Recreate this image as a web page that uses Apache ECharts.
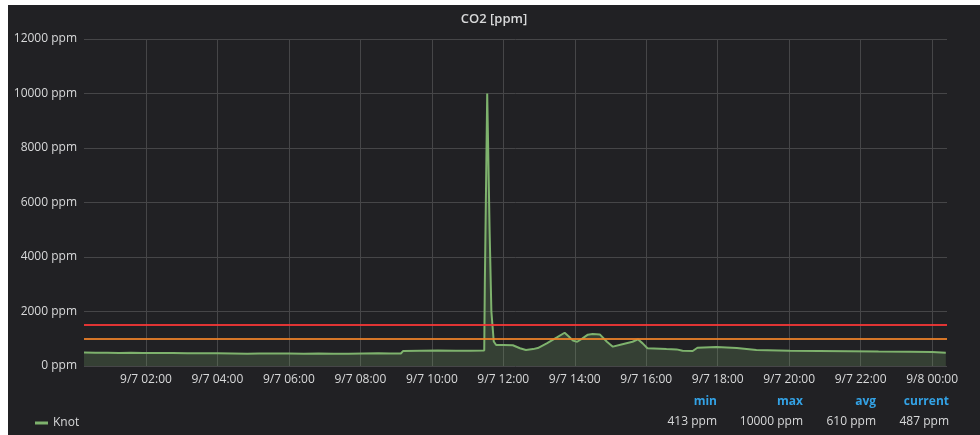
<!DOCTYPE html>
<html>
<head>
<meta charset="utf-8">
<title>CO2 [ppm]</title>
<script src="https://cdn.jsdelivr.net/npm/echarts@6/dist/echarts.min.js"></script>
<style>
  html, body { margin: 0; padding: 0; background: #fff; }
  #co2Chart { position: absolute; left: 8px; top: 5px; width: 972px; height: 430px; }
</style>
</head>
<body>
<div id="co2Chart"></div>
<script>
// readings of the "Knot" sensor, 9/7 00:16 .. 9/8 00:23
var times = [
  "2023-09-07 00:16", "2023-09-07 00:35", "2023-09-07 00:55", "2023-09-07 01:15", "2023-09-07 01:35",
  "2023-09-07 01:55", "2023-09-07 02:20", "2023-09-07 02:45", "2023-09-07 03:10", "2023-09-07 03:35",
  "2023-09-07 04:00", "2023-09-07 04:25", "2023-09-07 04:50", "2023-09-07 05:10", "2023-09-07 05:35",
  "2023-09-07 06:00", "2023-09-07 06:25", "2023-09-07 06:50", "2023-09-07 07:15", "2023-09-07 07:40",
  "2023-09-07 08:05", "2023-09-07 08:30", "2023-09-07 08:50", "2023-09-07 09:08", "2023-09-07 09:12",
  "2023-09-07 09:40", "2023-09-07 10:10", "2023-09-07 10:40", "2023-09-07 11:05", "2023-09-07 11:28",
  "2023-09-07 11:29", "2023-09-07 11:33", "2023-09-07 11:37", "2023-09-07 11:40", "2023-09-07 11:44",
  "2023-09-07 11:48", "2023-09-07 12:00", "2023-09-07 12:16", "2023-09-07 12:28", "2023-09-07 12:38",
  "2023-09-07 12:50", "2023-09-07 12:58", "2023-09-07 13:13", "2023-09-07 13:30", "2023-09-07 13:43",
  "2023-09-07 13:50", "2023-09-07 13:57", "2023-09-07 14:04", "2023-09-07 14:13", "2023-09-07 14:22",
  "2023-09-07 14:30", "2023-09-07 14:42", "2023-09-07 14:54", "2023-09-07 15:04", "2023-09-07 15:20",
  "2023-09-07 15:37", "2023-09-07 15:46", "2023-09-07 15:54", "2023-09-07 16:02", "2023-09-07 16:34",
  "2023-09-07 16:51", "2023-09-07 17:01", "2023-09-07 17:18", "2023-09-07 17:26", "2023-09-07 17:58",
  "2023-09-07 18:32", "2023-09-07 19:05", "2023-09-07 20:01", "2023-09-07 20:50", "2023-09-07 21:41",
  "2023-09-07 22:30", "2023-09-07 23:22", "2023-09-08 00:00", "2023-09-08 00:23"
];
var knot = [
  492, 488, 484, 480, 483,
  478, 476, 480, 472, 468,
  470, 462, 445, 455, 462,
  458, 450, 456, 448, 452,
  460, 466, 462, 458, 555,
  560, 565, 558, 562, 565,
  3000, 10000, 5000, 2000, 900,
  770, 770, 760, 650, 590,
  620, 660, 830, 1050, 1220,
  1080, 930, 890, 1015, 1150,
  1175, 1160, 890, 710, 800,
  890, 980, 830, 650, 620,
  610, 560, 550, 670, 700,
  660, 590, 560, 550, 540,
  530, 525, 510, 490
];
var thresholds = [1500, 1000];
var xTicks = [
  "2023-09-07 02:00", "2023-09-07 04:00", "2023-09-07 06:00", "2023-09-07 08:00",
  "2023-09-07 10:00", "2023-09-07 12:00", "2023-09-07 14:00", "2023-09-07 16:00",
  "2023-09-07 18:00", "2023-09-07 20:00", "2023-09-07 22:00", "2023-09-08 00:00"
];
var xRange = ["2023-09-07 00:16", "2023-09-08 00:25"];
var statNames = ["min", "max", "avg", "current"];
var statValues = ["413 ppm", "10000 ppm", "610 ppm", "487 ppm"];

function ts(s) {
  return new Date(s.replace(" ", "T")).getTime();
}
function pad(n) {
  return (n < 10 ? "0" : "") + n;
}

var chart = echarts.init(document.getElementById("co2Chart"));
var font = "'Open Sans', 'Noto Sans', sans-serif";
var tickValues = xTicks.map(ts);

// stats block under the plot (grafana legend table)
var statRight = [709, 795, 868, 941];
var graphics = [];
statNames.forEach(function (name, i) {
  graphics.push({
    type: "text", x: statRight[i], y: 397,
    style: { text: name, fill: "#33a2e5", font: "bold 12px " + font, align: "right", verticalAlign: "middle" }
  });
  graphics.push({
    type: "text", x: statRight[i], y: 417,
    style: { text: statValues[i], fill: "#d8d9da", font: "12px " + font, align: "right", verticalAlign: "middle" }
  });
});

var option = {
  backgroundColor: "#212124",
  animation: false,
  textStyle: { fontFamily: font },
  title: {
    text: "CO2 [ppm]",
    left: "center",
    top: 3,
    textStyle: { color: "#d8d9da", fontSize: 13, fontWeight: 600, fontFamily: font }
  },
  grid: { left: 76, right: 33, top: 34, bottom: 69 },
  legend: {
    left: 22,
    top: 407,
    icon: "rect",
    itemWidth: 13,
    itemHeight: 3,
    itemGap: 10,
    textStyle: { color: "#d8d9da", fontSize: 12, fontFamily: font },
    data: ["Knot"]
  },
  xAxis: {
    type: "value",
    min: ts(xRange[0]),
    max: ts(xRange[1]),
    axisLine: { show: false },
    axisTick: { show: false, customValues: tickValues },
    axisLabel: {
      customValues: tickValues,
      color: "#d8d9da",
      fontSize: 12,
      margin: 8,
      formatter: function (v) {
        var d = new Date(v);
        return (d.getMonth() + 1) + "/" + d.getDate() + " " + pad(d.getHours()) + ":" + pad(d.getMinutes());
      }
    },
    splitLine: { show: true, lineStyle: { color: "#464648", width: 1 } }
  },
  yAxis: {
    type: "value",
    min: 0,
    max: 12000,
    interval: 2000,
    axisLine: { show: false },
    axisTick: { show: false },
    axisLabel: {
      color: "#d8d9da",
      fontSize: 12,
      margin: 7,
      formatter: function (v) { return v + " ppm"; }
    },
    splitLine: { lineStyle: { color: "#464648", width: 1 } }
  },
  series: [
    {
      name: "Knot",
      type: "line",
      data: times.map(function (t, i) { return [ts(t), knot[i]]; }),
      showSymbol: false,
      color: "#7eb26d",
      lineStyle: { width: 2, color: "#7eb26d" },
      areaStyle: { color: "#7eb26d", opacity: 0.22 },
      markLine: {
        silent: true,
        symbol: "none",
        label: { show: false },
        data: [
          { yAxis: thresholds[0], lineStyle: { color: "rgba(245,54,54,0.9)", width: 2, type: "solid" } },
          { yAxis: thresholds[1], lineStyle: { color: "rgba(237,129,40,0.89)", width: 2, type: "solid" } }
        ]
      }
    }
  ],
  graphic: graphics
};
chart.setOption(option);
</script>
</body>
</html>
